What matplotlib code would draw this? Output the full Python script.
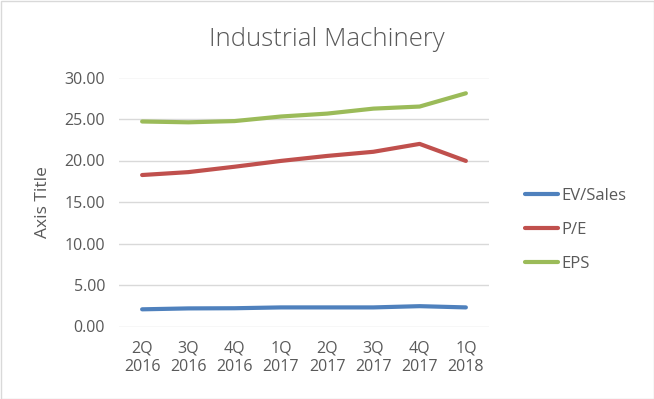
import matplotlib
matplotlib.use("Agg")
import matplotlib.pyplot as plt
from matplotlib.patches import Rectangle

categories = ["2Q\n2016", "3Q\n2016", "4Q\n2016", "1Q\n2017", "2Q\n2017", "3Q\n2017", "4Q\n2017", "1Q\n2018"]
ev_sales = [2.07, 2.18, 2.2, 2.3, 2.3, 2.3, 2.45, 2.3]
pe = [18.25, 18.6, 19.25, 19.95, 20.55, 21.05, 22.0, 19.95]
eps = [24.7, 24.6, 24.75, 25.3, 25.65, 26.25, 26.5, 28.1]
series_names = ["EV/Sales", "P/E", "EPS"]
colors = ["#4F81BD", "#C0504D", "#9BBB59"]
yticks = [0, 5, 10, 15, 20, 25, 30]

plt.rcParams['font.family'] = ['Open Sans', 'DejaVu Sans']
W, H = 654, 399
fig = plt.figure(figsize=(W / 100, H / 100), dpi=100)
ax = fig.add_axes([119 / W, (H - 326.5) / H, (489 - 119) / W, (326.5 - 77.5) / H])

x = list(range(len(categories)))
for vals, name, c in zip([ev_sales, pe, eps], series_names, colors):
    ax.plot(x, vals, color=c, lw=3.0, solid_capstyle='round', label=name)

ax.set_xlim(-0.5, len(categories) - 0.5)
ax.set_ylim(0, 30)
ax.set_yticks(yticks)
ax.set_yticklabels([f"{v:.2f}" for v in yticks])
ax.set_xticks(x)
ax.set_xticklabels(categories, linespacing=1.25)
ax.grid(axis='y', color='#D9D9D9', lw=1)
ax.set_axisbelow(True)
for s in ax.spines.values():
    s.set_visible(False)
ax.tick_params(axis='both', length=0, labelsize=11.5, colors='#595959')
ax.tick_params(axis='y', pad=10)
ax.tick_params(axis='x', pad=10)
ax.set_ylabel("Axis Title", fontsize=12.5, color='#595959')
ax.yaxis.set_label_coords((51 - 119) / (489 - 119), 0.5)

fig.text(326.5 / W, 1 - 40 / H, "Industrial Machinery", ha='center', va='center',
         fontsize=18.5, color='#595959', fontweight='light')

leg = ax.legend(loc='upper left', bbox_to_anchor=(510 / W, 1 - 173 / H), bbox_transform=fig.transFigure,
                frameon=False, fontsize=12, handlelength=2.0, handletextpad=0.2, labelspacing=1.08,
                labelcolor='#595959')

fig.patches.append(Rectangle((0.5 / W, 0.5 / H), 1 - 1 / W, 1 - 1 / H, transform=fig.transFigure,
                             fill=False, edgecolor='#D9D9D9', lw=1))
fig.savefig("out.png", dpi=100)
